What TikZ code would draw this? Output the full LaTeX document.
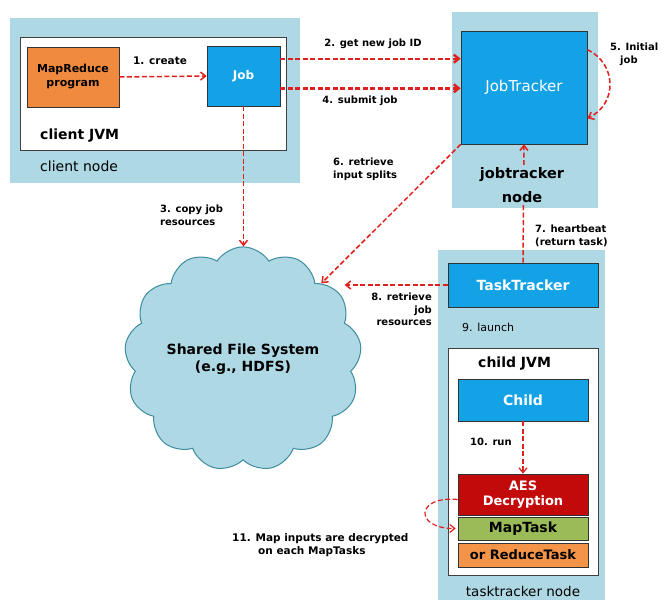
\documentclass[tikz,border=0pt]{standalone}
\usepackage{fontspec}
\setmainfont{DejaVu Sans}
\usetikzlibrary{shapes.symbols,arrows.meta}
\definecolor{nodebg}{HTML}{AFD8E5}
\definecolor{boxblue}{HTML}{14A2E6}
\definecolor{mrorange}{HTML}{F08A3E}
\definecolor{aesred}{HTML}{C20A0A}
\definecolor{mapgreen}{HTML}{9BBB59}
\definecolor{redorange}{HTML}{F49449}
\definecolor{arrred}{HTML}{E0201C}
\definecolor{cloudline}{HTML}{3C8C9E}
\begin{document}
\begin{tikzpicture}[x=1pt,y=-1pt,
  region/.style={rectangle, fill=nodebg, draw=none, inner sep=0pt},
  jvm/.style={rectangle, fill=white, draw=black!75, line width=0.8pt, inner sep=0pt},
  bluebox/.style={rectangle, fill=boxblue, draw=black!80, line width=0.6pt, text=white, inner sep=0pt, align=center},
  taskbox/.style={rectangle, draw=black!80, line width=0.6pt, inner sep=0pt, align=center, minimum width=130pt, font=\fontsize{13}{15}\selectfont\bfseries},
  big/.style={font=\fontsize{14}{17}\selectfont\bfseries, inner sep=0pt, align=center},
  lbl/.style={font=\fontsize{10}{12.5}\selectfont\bfseries, inner sep=0pt},
  arr/.style={draw=arrred, dash pattern=on 5pt off 2.5pt, line width=1.5pt, -{Straight Barb[length=5pt,width=8pt]}},
  thickarr/.style={arr, line width=2.4pt}]
\useasboundingbox (0,0) rectangle (665,600);

% client node
\node[region, minimum width=290pt, minimum height=165pt] (clientnode) at (155,100.5) {};
\node[jvm, minimum width=266pt, minimum height=113pt] (clientjvm) at (153,93.5) {};
\node[rectangle, fill=mrorange, draw=black!80, line width=0.7pt, minimum width=92pt, minimum height=60pt, inner sep=0pt, align=center, font=\fontsize{11}{14}\selectfont\bfseries] (mr) at (73,77) {MapReduce\\program};
\node[bluebox, minimum width=73pt, minimum height=60pt, font=\fontsize{12}{14}\selectfont\bfseries] (job) at (243.5,76) {Job};
\node[big, anchor=west] (cjvmlbl) at (40,136) {client JVM};
\node[big, anchor=west, font=\fontsize{14}{17}\selectfont] (cnodelbl) at (40,166) {client node};

% jobtracker node
\node[region, minimum width=146pt, minimum height=196pt] (jtnode) at (525,110) {};
\node[bluebox, minimum width=126pt, minimum height=113pt, font=\fontsize{15}{17}\selectfont] (jt) at (524,87.5) {JobTracker};

% tasktracker node
\node[region, minimum width=167pt, minimum height=350pt] (ttnode) at (521.5,425) {};
\node[bluebox, minimum width=150pt, minimum height=44pt, font=\fontsize{14}{17}\selectfont\bfseries] (tt) at (523,285) {TaskTracker};
\node[jvm, minimum width=150pt, minimum height=227pt] (childjvm) at (523,461.5) {};
\node[big, anchor=west] (cjlbl) at (478,364) {child JVM};
\node[bluebox, minimum width=130pt, minimum height=42pt, font=\fontsize{14}{17}\selectfont\bfseries] (child) at (523,400) {Child};
\node[taskbox, fill=aesred, text=white, minimum height=41pt] (aes) at (523,494.5) {AES\\Decryption};
\node[taskbox, fill=mapgreen, minimum height=23pt, font=\fontsize{14}{16}\selectfont\bfseries] (map) at (523,528.5) {MapTask};
\node[taskbox, fill=redorange, minimum height=24pt] (reduce) at (523,555) {or ReduceTask};
\node[big, font=\fontsize{13.5}{16}\selectfont] (ttlbl) at (523,591) {tasktracker node};

% shared file system
\node[cloud, cloud puffs=13, cloud puff arc=115, aspect=1.07, fill=nodebg, draw=cloudline, line width=1pt, minimum width=237pt, minimum height=222pt, inner sep=0pt, align=center, font=\fontsize{14}{17}\selectfont\bfseries] (sfs) at (243,359) {Shared File System\\(e.g., HDFS)};

% connectors
\draw[arr] (mr.east) -- (job.west);
\draw[thickarr] ([yshift=-13pt]job.north east) -- ([yshift=-13pt]job.north east -| jt.west);
\draw[thickarr] ([yshift=18pt]job.south east) -- ([yshift=18pt]job.south east -| jt.west);
\draw[arr] (job.south) -- (job.south |- sfs.north);
\draw[arr] ([yshift=-19pt]jt.north east) .. controls +(30,14) and +(30,-14) .. ([yshift=26pt]jt.south east);
\draw[arr] (jt.south west) -- (sfs.44);
\draw[arr] (tt.north) -- (jt.south);
\draw[arr] (tt.west) -- ([xshift=-15pt]tt.west -| sfs.east);
\draw[arr, line width=1.2pt] (child.south) -- (aes.north);
\draw[arr, line width=1.2pt] ([yshift=-5pt]aes.west) .. controls +(-42,-4) and +(-42,0) .. ([xshift=-2pt]map.west);

% jobtracker node label (covers heartbeat line)
\node[big, fill=nodebg, inner sep=2pt, font=\fontsize{14.5}{24}\selectfont\bfseries] (jtlbl) at (522,185) {jobtracker\\node};

% labels
\node[lbl, font=\fontsize{10.5}{12.5}\selectfont\bfseries] (l1) at (160,61) {1. create};
\node[lbl] (l2) at (373,44) {2. get new job ID};
\node[lbl] (l4) at (360,101) {4. submit job};
\node[lbl, anchor=north west, align=left] (l5) at (610,43) {5. Initial\\\hspace*{10pt}job};
\node[lbl, anchor=north west, align=left] (l6) at (333,158) {6. retrieve\\input splits};
\node[lbl, anchor=north west, align=left] (l3) at (160,205) {3. copy job\\resources};
\node[lbl, anchor=north west, align=left] (l7) at (535,225) {7. heartbeat\\(return task)};
\node[lbl, anchor=north east, align=right] (l8) at (432,293) {8. retrieve\\job\\resources};
\node[lbl, anchor=west, font=\fontsize{11}{13}\selectfont] (l9) at (462,327) {9. launch};
\node[lbl, anchor=west] (l10) at (470,442) {10. run};
\node[lbl, anchor=north west, align=left, font=\fontsize{10.5}{13}\selectfont\bfseries] (l11) at (232,533) {11. Map inputs are decrypted\\\hspace*{26pt}on each MapTasks};
\end{tikzpicture}
\end{document}
